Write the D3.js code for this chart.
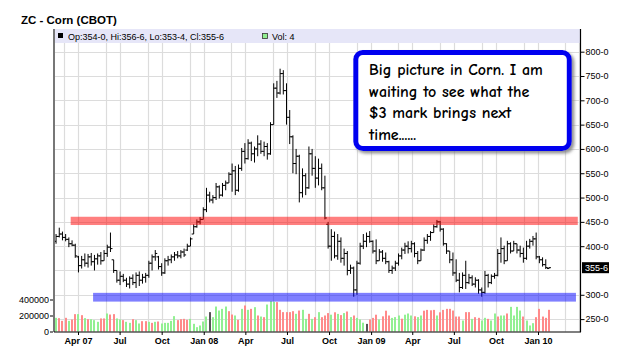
<!DOCTYPE html>
<html><head><meta charset="utf-8">
<script src="https://cdn.jsdelivr.net/npm/d3@7"></script>
<style>body{margin:0;background:#fff}svg{display:block}</style>
</head><body>
<svg id="chart" width="625" height="359"></svg>
<script>
// ---- DATA (weekly bars, Feb 2007 - Jan 2010) ----
const firstWeek = "2007-02-12";
const lastWeekExclusive = "2010-01-26";

const openP = [
410,420,425,418,414,405,402,378,360,372,
365,378,368,374,380,370,385,398,372,350,
330,338,330,322,334,325,340,330,336,340,
365,378,378,358,345,370,372,378,382,380,
388,392,400,425,440,450,455,475,505,495,
500,522,505,525,530,548,555,515,560,595,
580,612,590,600,610,595,605,590,650,725,
715,755,720,665,625,570,585,510,545,520,
590,560,540,560,520,445,400,420,380,410,
375,385,350,355,310,365,400,410,420,410,
390,370,388,375,368,350,355,365,380,392,
400,395,405,385,370,392,412,420,428,440,
450,435,405,390,372,345,330,315,340,325,
335,322,330,310,305,340,325,338,340,385,
395,370,405,390,405,392,385,375,400,410,
415,378,372,362,354];
const highP = [
425,438,430,425,418,412,405,380,380,385,
384,386,382,385,388,392,403,428,372,350,
348,343,335,338,342,346,348,343,345,370,
383,392,380,365,375,380,383,388,390,392,
395,405,418,445,455,460,480,520,512,505,
530,525,530,535,552,570,565,568,602,612,
620,615,605,628,618,615,612,655,735,740,
765,762,735,680,628,600,588,560,550,605,
600,585,580,570,545,450,435,430,425,418,
395,390,362,358,370,407,425,428,431,412,
414,394,392,387,370,360,370,385,397,407,
410,411,408,390,395,418,425,431,445,454,
452,437,406,390,387,373,345,346,370,343,
340,336,332,315,349,343,342,345,394,418,
401,411,408,411,405,401,397,411,415,421,
428,380,377,373,356.75];
const lowP = [
405,418,412,410,398,400,376,346,354,358,
356,360,350,362,362,370,378,388,345,325,
320,326,316,313,320,314,318,323,325,335,
350,370,352,339,343,360,365,370,375,375,
378,390,400,425,438,445,455,470,490,488,
495,498,502,515,530,512,505,512,555,570,
578,575,572,585,590,585,578,588,650,705,
712,712,650,610,550,548,490,500,505,518,
545,520,525,515,455,395,370,375,372,366,
360,340,343,296,300,362,394,398,407,385,
363,370,368,363,345,343,349,360,373,384,
385,387,377,363,370,390,405,411,428,438,
430,401,384,365,339,326,305,312,312,322,
318,315,302,296,302,315,322,333,338,366,
363,370,385,390,385,377,366,372,395,401,
373,365,358,353,353.5];
const closeP = [
420,425,418,414,405,402,380,360,372,365,
378,368,374,380,370,385,398,395,350,330,
338,330,322,334,325,340,330,336,340,365,
378,385,358,345,370,372,378,382,380,388,
382,400,415,440,450,455,475,505,495,500,
522,505,525,530,548,555,515,560,595,580,
612,590,600,610,595,605,590,650,725,715,
755,720,665,625,570,585,510,545,520,590,
560,540,560,520,458,400,420,380,410,375,
385,350,355,310,365,400,410,420,410,390,
370,388,375,368,350,355,365,380,392,400,
395,405,385,370,392,412,420,428,440,450,
435,405,390,372,345,330,315,340,325,335,
322,330,310,305,340,325,338,340,385,395,
370,405,390,405,392,385,375,400,410,415,
378,372,362,356,355.75];
const volume = [
171000,167000,133000,171000,133000,150000,217000,217000,204000,167000,
154000,154000,142000,121000,163000,163000,225000,212000,217000,163000,
150000,142000,121000,108000,154000,142000,100000,129000,129000,121000,
108000,121000,125000,100000,108000,108000,133000,192000,142000,154000,
158000,146000,158000,96000,54000,75000,125000,187000,242000,179000,
312000,262000,283000,312000,254000,212000,200000,146000,283000,325000,
271000,283000,304000,200000,187000,179000,337000,379000,371000,367000,
271000,242000,242000,242000,254000,221000,262000,271000,158000,221000,
158000,179000,242000,179000,200000,230000,210000,240000,220000,205000,
230000,250000,180000,200000,170000,150000,110000,95000,150000,170000,
210000,150000,190000,260000,200000,170000,180000,200000,160000,210000,
225000,200000,190000,180000,200000,260000,270000,265000,270000,200000,
240000,270000,283000,283000,262000,187000,187000,137000,242000,242000,
158000,179000,171000,137000,171000,158000,137000,225000,187000,200000,
200000,225000,308000,200000,308000,262000,187000,137000,75000,104000,
179000,283000,187000,171000,271000];
const volDir = [
"g","r","r","r","g","r","r","g","r","g",
"r","g","g","g","r","r","g","r","r","g",
"g","r","g","g","r","g","g","r","r","g",
"r","g","r","g","g","g","g","g","r","r",
"r","r","g","g","g","g","g","g","k","g",
"g","g","g","g","r","r","g","r","g","r",
"g","r","g","r","g","r","g","g","g","r",
"r","r","r","r","r","g","r","g","g","r",
"g","r","g","r","r","r","g","r","g","r",
"g","r","g","r","g","g","g","k","r","r",
"r","g","r","r","r","g","g","g","r","g",
"g","g","r","g","g","r","r","r","r","g",
"r","r","r","r","r","r","r","g","r","r",
"g","r","r","g","g","r","g","g","r","g",
"g","r","g","g","g","g","r","g","g","g",
"r","r","r","r","r"];

const priceTicks = [250,300,400,450,500,550,600,650,700,750,800];
const priceGrid = [250,300,350,400,450,500,550,600,650,700,750,800];
const volTicks = [0,200000,400000];
const xTickDates = ["2007-04-01","2007-07-01","2007-10-01","2008-01-01","2008-04-01","2008-07-01",
                    "2008-10-01","2009-01-01","2009-04-01","2009-07-01","2009-10-01","2010-01-01"];
const xTickLabels = ["Apr 07","Jul","Oct","Jan 08","Apr","Jul","Oct","Jan 09","Apr","Jul","Oct","Jan 10"];
const gridMonths = [0,2,3,5,6,8,9,11]; // Jan, Mar, Apr, Jun, Jul, Sep, Oct, Dec

const bands = [
  {from:"2007-03-16", to:"2010-03-29", top:460.5, bottom:443.5, color:"rgb(255,0,0)"},
  {from:"2007-05-04", to:"2010-03-25", top:304, bottom:286, color:"rgb(0,0,255)"}
];
const title = "ZC - Corn (CBOT)";
const legendText = "Op:354-0, Hi:356-6, Lo:353-4, Cl:355-6";
const legendVol = "Vol: 4";
const lastPrice = 355.75;
const noteLines = ["Big picture in Corn. I am","waiting to see what the","$3 mark brings next","time......"];

// ---- DRAW ----
const parse = d3.timeParse("%Y-%m-%d");
const weeks = d3.timeMonday.range(parse(firstWeek), parse(lastWeekExclusive));
const bars = weeks.map((d,i)=>({date:d,o:openP[i],h:highP[i],l:lowP[i],c:closeP[i],v:volume[i],dir:volDir[i]}));

const svg = d3.select("#chart");
const L = 54, R = 580, T = 43, B = 331.5;
const x = d3.scaleTime().domain([parse("2007-04-01"), parse("2010-01-01")]).range([78,538]);
const y = d3.scaleLinear().domain([250,800]).range([319.1,51.7]);
const yv = d3.scaleLinear().domain([0,400000]).range([B,299.5]);
const fmt = v => Math.floor(v) + "-" + Math.round((v % 1) * 8);
const font = "'Liberation Sans', Arial, sans-serif";

// title
svg.append("text").attr("x",21).attr("y",24).attr("font-family",font)
  .attr("font-size",11.5).attr("font-weight","bold").attr("fill","#000").text(title);

// legend bar
svg.append("rect").attr("x",L).attr("y",29).attr("width",R-L).attr("height",T-29).attr("fill","#e6e6f8");
// grid
const g = svg.append("g");
const gridDates = d3.timeMonth.range(x.invert(L), x.invert(R)).filter(d=>gridMonths.includes(d.getMonth()));
g.selectAll("line.v").data(gridDates).join("line")
  .attr("x1",d=>Math.round(x(d))+0.5).attr("x2",d=>Math.round(x(d))+0.5)
  .attr("y1",T).attr("y2",B).attr("stroke","#dcdcdc").attr("stroke-width",1.2);
g.selectAll("line.h").data(priceGrid).join("line")
  .attr("x1",L).attr("x2",R).attr("y1",d=>Math.round(y(d))+0.5).attr("y2",d=>Math.round(y(d))+0.5)
  .attr("stroke","#dcdcdc").attr("stroke-width",1.2);

// legend content
svg.append("rect").attr("x",58).attr("y",33).attr("width",5).attr("height",5).attr("fill","#000");
svg.append("text").attr("x",68).attr("y",40).attr("font-family",font).attr("font-size",9).attr("fill","#000").text(legendText);
svg.append("rect").attr("x",262.5).attr("y",33.5).attr("width",5).attr("height",5).attr("fill","#90ee90").attr("stroke","#333").attr("stroke-width",0.8);
svg.append("text").attr("x",272).attr("y",40).attr("font-family",font).attr("font-size",9).attr("fill","#000").text(legendVol);

// volume bars
const vcol = {g:"#92f092", r:"#ff8a8a", k:"#555"};
svg.append("g").selectAll("rect").data(bars).join("rect")
  .attr("x",d=>Math.round(x(d.date))-1).attr("width",2)
  .attr("y",d=>yv(d.v)).attr("height",d=>B-yv(d.v))
  .attr("fill",d=>vcol[d.dir]);

// price bars (OHLC)
const pb = svg.append("g").attr("stroke","#000").attr("stroke-width",1);
pb.selectAll("line.hl").data(bars).join("line")
  .attr("x1",d=>x(d.date)).attr("x2",d=>x(d.date)).attr("y1",d=>y(d.h)).attr("y2",d=>y(d.l));
pb.selectAll("line.o").data(bars).join("line")
  .attr("x1",d=>x(d.date)-2).attr("x2",d=>x(d.date)).attr("y1",d=>y(d.o)).attr("y2",d=>y(d.o));
pb.selectAll("line.c").data(bars).join("line")
  .attr("x1",d=>x(d.date)).attr("x2",d=>x(d.date)+2).attr("y1",d=>y(d.c)).attr("y2",d=>y(d.c));

// bands
svg.append("g").selectAll("rect").data(bands).join("rect")
  .attr("x",d=>x(parse(d.from))).attr("width",d=>x(parse(d.to))-x(parse(d.from)))
  .attr("y",d=>y(d.top)).attr("height",d=>y(d.bottom)-y(d.top))
  .attr("fill",d=>d.color).attr("fill-opacity",0.5);

// axes lines
svg.append("line").attr("x1",L).attr("x2",L).attr("y1",29).attr("y2",B+0.5).attr("stroke","#777").attr("stroke-width",2);
svg.append("line").attr("x1",R+0.5).attr("x2",R+0.5).attr("y1",29).attr("y2",B+0.5).attr("stroke","#000").attr("stroke-width",1.2);
svg.append("line").attr("x1",L).attr("x2",R+1).attr("y1",B+0.5).attr("y2",B+0.5).attr("stroke","#000").attr("stroke-width",1.2);

// right price axis
const ax = svg.append("g").attr("transform",`translate(${R+0.5},0)`)
  .call(d3.axisRight(y).tickValues(priceTicks).tickSize(4).tickPadding(1).tickFormat(fmt));
ax.select(".domain").remove();
ax.selectAll("text").attr("font-family",font).attr("font-size",9).attr("fill","#000");
ax.selectAll("line").attr("stroke","#000");

// last price label
const lp = svg.append("g").attr("transform",`translate(${R+2},${y(lastPrice)})`);
lp.append("rect").attr("x",0).attr("y",-5.5).attr("width",27).attr("height",11).attr("fill","#000");
lp.append("text").attr("x",3).attr("y",3.5).attr("font-family",font).attr("font-size",9).attr("fill","#fff").text(fmt(lastPrice));

// left volume axis
const av = svg.append("g").attr("transform",`translate(${L-1},0)`)
  .call(d3.axisLeft(yv).tickValues(volTicks).tickSize(3).tickPadding(1).tickFormat(d=>String(d)));
av.select(".domain").remove();
av.selectAll("text").attr("font-family",font).attr("font-size",9).attr("fill","#000");
av.selectAll("line").attr("stroke","#000");

// bottom time axis
const abx = svg.append("g").attr("transform",`translate(0,${B+0.5})`)
  .call(d3.axisBottom(x).tickValues(xTickDates.map(parse)).tickSize(3).tickPadding(3)
    .tickFormat((d,i)=>xTickLabels[i]));
abx.select(".domain").remove();
abx.selectAll("text").attr("font-family",font).attr("font-size",9).attr("font-weight","bold").attr("fill","#000");
abx.selectAll("line").attr("stroke","#000");

// callout
const defs = svg.append("defs");
const f = defs.append("filter").attr("id","sh").attr("x","-10%").attr("y","-10%").attr("width","130%").attr("height","130%");
f.append("feDropShadow").attr("dx",2.5).attr("dy",2.5).attr("stdDeviation",1.5).attr("flood-color","#777").attr("flood-opacity",0.8);
svg.append("rect").attr("x",355.8).attr("y",52.5).attr("width",213.5).attr("height",96)
  .attr("rx",7).attr("fill","#fff").attr("stroke","#0000f0").attr("stroke-width",5).attr("filter","url(#sh)");
svg.append("g").selectAll("text").data(noteLines).join("text")
  .attr("x",369).attr("y",(d,i)=>75+i*21.7)
  .attr("font-family","'Comic Sans MS','Comic Neue','Open Sans',sans-serif").attr("font-size",16)
  .attr("font-weight","bold").attr("fill","#000")
  .text(d=>d);
</script>
</body></html>
